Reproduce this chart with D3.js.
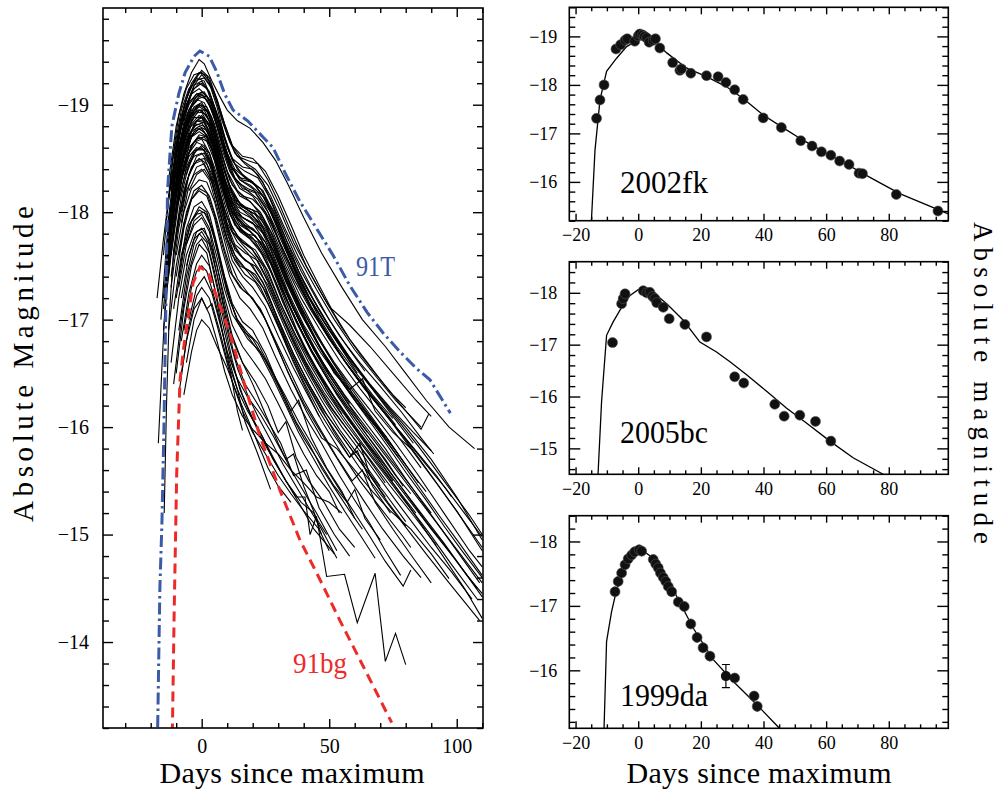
<!DOCTYPE html>
<html>
<head>
<meta charset="utf-8">
<script src="https://cdn.jsdelivr.net/npm/d3@7"></script>
<style>
  body { margin: 0; background: #fff; }
  svg { display: block; }
  text { font-family: "Liberation Serif", "DejaVu Serif", serif; fill: #000; }
</style>
</head>
<body>
<svg id="chart" width="998" height="791"></svg>
<script>
// ---- left panel: sample of light curves, [day since max, absolute mag]
const lightCurves = [
  // bright, broad
  [[-13,-18.3],[-10,-18.8],[-7,-19.1],[-4,-19.3],[-1,-19.42],[1,-19.38],[4,-19.22],[7,-19.08],[10,-18.95],[14,-18.85],[19,-18.78],[24,-18.65],[29,-18.48],[34,-18.25],[40,-17.95],[47,-17.62],[55,-17.3],[63,-17.0],[72,-16.75],[80,-16.5],[88,-16.25],[97,-16.0],[107,-15.8]],
  [[-15,-17.6],[-12,-18.4],[-9,-18.9],[-6,-19.15],[-3,-19.28],[0,-19.3],[3,-19.22],[6,-19.05],[9,-18.82],[12,-18.62],[16,-18.48],[21,-18.4],[26,-18.25],[31,-18.0],[36,-17.72],[42,-17.45],[50,-17.12],[58,-16.95],[66,-16.75],[75,-16.5],[84,-16.25],[90,-16.1]],
  [[-14,-17.9],[-11,-18.55],[-8,-18.95],[-5,-19.15],[-2,-19.23],[1,-19.25],[4,-19.15],[7,-18.95],[10,-18.72],[13,-18.55],[17,-18.45],[22,-18.35],[27,-18.15],[32,-17.88],[38,-17.58],[45,-17.28],[52,-17.0],[60,-16.72],[68,-16.48],[76,-16.25],[86,-16.0]],
  [[-12,-18.2],[-9,-18.7],[-6,-19.0],[-3,-19.15],[0,-19.2],[3,-19.12],[6,-18.92],[9,-18.68],[12,-18.48],[16,-18.35],[20,-18.28],[25,-18.12],[30,-17.85],[35,-17.55],[41,-17.25],[48,-16.98],[56,-16.7],[64,-16.45],[72,-16.22],[80,-16.0],[90,-15.7],[100,-15.35],[110,-14.95]],
  [[-16,-17.0],[-13,-17.95],[-10,-18.55],[-7,-18.9],[-4,-19.1],[-1,-19.15],[2,-19.08],[5,-18.9],[8,-18.65],[11,-18.45],[15,-18.3],[20,-18.22],[25,-18.05],[30,-17.8],[36,-17.48],[42,-17.2],[50,-16.9],[58,-16.62],[66,-16.38],[75,-16.12],[85,-15.82],[95,-15.5],[105,-15.18],[110,-15.0]],
  [[-11,-18.4],[-8,-18.8],[-5,-19.0],[-2,-19.1],[1,-19.08],[4,-18.95],[7,-18.72],[10,-18.5],[13,-18.32],[17,-18.22],[22,-18.12],[27,-17.92],[32,-17.62],[38,-17.32],[45,-17.02],[53,-16.72],[61,-16.45],[70,-16.18],[80,-15.88],[90,-15.55],[100,-15.22],[110,-14.85]],
  [[-14,-17.6],[-11,-18.3],[-8,-18.7],[-5,-18.95],[-2,-19.05],[1,-19.02],[4,-18.88],[7,-18.62],[10,-18.38],[14,-18.2],[18,-18.12],[23,-18.0],[28,-17.78],[33,-17.5],[39,-17.2],[46,-16.92],[54,-16.62],[62,-16.36],[70,-16.12],[78,-15.88],[86,-15.62]],
  [[-10,-18.35],[-7,-18.7],[-4,-18.92],[-1,-19.0],[2,-18.98],[5,-18.82],[8,-18.58],[11,-18.38],[15,-18.22],[20,-18.15],[25,-17.98],[30,-17.7],[36,-17.38],[43,-17.08],[50,-16.82],[58,-16.55],[66,-16.3],[74,-16.06],[82,-15.8],[92,-15.48],[102,-15.15],[110,-14.88]],
  [[-13,-17.8],[-10,-18.4],[-7,-18.75],[-4,-18.95],[-1,-19.0],[2,-18.95],[5,-18.75],[8,-18.48],[11,-18.25],[15,-18.08],[19,-18.0],[24,-17.85],[29,-17.55],[34,-17.25],[40,-16.95],[47,-16.68],[55,-16.42],[63,-16.18],[72,-15.92],[80,-15.65]],
  [[-8,-18.85],[-5,-19.02],[-2,-19.1],[1,-19.12],[4,-19.0],[7,-18.78],[10,-18.55],[13,-18.4],[17,-18.32],[21,-18.25],[26,-18.08],[31,-17.8],[36,-17.52],[42,-17.22],[48,-16.98],[55,-16.72],[61,-16.5]],
  [[-10,-18.45],[-7,-18.75],[-4,-18.92],[-1,-18.98],[2,-18.94],[5,-18.78],[8,-18.52],[11,-18.3],[15,-18.15],[19,-18.1],[24,-17.95],[29,-17.68],[34,-17.38],[40,-17.05]],
  [[-13,-17.9],[-10,-18.45],[-7,-18.78],[-4,-18.98],[-1,-19.06],[2,-19.08],[5,-18.98],[8,-18.78],[11,-18.55],[14,-18.4],[18,-18.3],[23,-18.22],[28,-18.02],[33,-17.75],[39,-17.45],[46,-17.15],[54,-16.85],[62,-16.6],[70,-16.38],[78,-16.15],[86,-15.9],[91,-15.75]],
  [[-12,-18.0],[-9,-18.6],[-6,-18.95],[-3,-19.18],[0,-19.28],[3,-19.2],[6,-18.98],[9,-18.7],[12,-18.5],[16,-18.42],[20,-18.4],[24,-18.28],[28,-18.05],[33,-17.75],[38,-17.45],[44,-17.18],[51,-16.9],[58,-16.65],[66,-16.4],[74,-16.18],[83,-15.95],[90,-15.78]],
  [[-10,-18.6],[-7,-18.92],[-4,-19.12],[-1,-19.2],[2,-19.15],[5,-18.95],[8,-18.68],[11,-18.45],[15,-18.3],[19,-18.25],[24,-18.15],[29,-17.9],[34,-17.6],[40,-17.3],[46,-17.02],[53,-16.75],[60,-16.52],[67,-16.3],[75,-16.08]],
  [[-14,-17.5],[-11,-18.25],[-8,-18.7],[-5,-18.95],[-2,-19.08],[0,-19.1],[3,-19.0],[6,-18.8],[9,-18.55],[12,-18.35],[16,-18.22],[21,-18.18],[26,-18.0],[31,-17.7],[37,-17.38],[43,-17.1],[50,-16.82],[57,-16.58],[64,-16.35],[71,-16.15],[79,-15.92],[88,-15.65],[96,-15.42],[103,-15.2],[110,-14.98]],
  [[-13,-18.1],[-10,-18.62],[-7,-18.98],[-4,-19.2],[-1,-19.3],[2,-19.27],[5,-19.1],[8,-18.85],[11,-18.65],[14,-18.52],[18,-18.48],[22,-18.45],[26,-18.3],[30,-18.1],[35,-17.82],[41,-17.5],[48,-17.2],[55,-16.92],[62,-16.68],[68,-16.5],[75,-16.3],[80,-16.18]],
  [[-12,-18.15],[-9,-18.68],[-6,-19.0],[-3,-19.18],[0,-19.22],[3,-19.12],[6,-18.9],[9,-18.62],[12,-18.42],[15,-18.32],[19,-18.3],[24,-18.2],[29,-17.95],[34,-17.65],[40,-17.35],[47,-17.05],[54,-16.78],[60,-16.58]],
  [[-15,-17.1],[-12,-17.9],[-9,-18.45],[-6,-18.78],[-3,-18.95],[0,-19.0],[3,-18.92],[6,-18.7],[9,-18.45],[12,-18.25],[16,-18.15],[20,-18.12],[25,-18.0],[30,-17.75],[36,-17.45],[42,-17.15],[49,-16.88],[56,-16.62],[63,-16.4],[70,-16.18],[77,-15.98],[85,-15.75],[92,-15.55],[98,-15.35]],
  [[-11,-18.5],[-8,-18.9],[-5,-19.12],[-2,-19.25],[1,-19.22],[4,-19.05],[7,-18.82],[10,-18.6],[13,-18.45],[17,-18.38],[22,-18.32],[27,-18.12],[32,-17.85],[37,-17.58],[43,-17.3],[50,-17.0],[57,-16.75],[64,-16.52]],
  [[-9,-18.6],[-6,-18.9],[-3,-19.05],[0,-19.12],[3,-19.05],[6,-18.85],[9,-18.6],[12,-18.4],[16,-18.3],[20,-18.28],[25,-18.12],[30,-17.88],[35,-17.6],[41,-17.3],[47,-17.05],[54,-16.78],[61,-16.55],[68,-16.32],[75,-16.1],[83,-15.85]],
  [[-7,-18.75],[-4,-18.98],[-1,-19.08],[2,-19.05],[5,-18.88],[8,-18.62],[11,-18.4],[14,-18.28],[18,-18.22],[22,-18.18],[27,-18.0],[32,-17.72],[37,-17.42],[43,-17.12],[49,-16.88],[56,-16.62],[63,-16.4],[70,-16.2],[76,-16.02]],
  [[-12,-18.25],[-9,-18.75],[-6,-19.05],[-3,-19.22],[0,-19.32],[3,-19.25],[6,-19.05],[9,-18.82],[12,-18.62],[16,-18.52],[20,-18.5],[25,-18.38],[30,-18.15],[35,-17.88],[40,-17.6],[46,-17.32],[52,-17.05],[58,-16.82],[65,-16.6],[72,-16.38],[79,-16.18],[86,-15.98],[89,-16.12]],
  // intermediate
  [[-15,-17.2],[-12,-17.95],[-9,-18.5],[-6,-18.8],[-3,-18.93],[0,-18.95],[3,-18.85],[6,-18.62],[9,-18.38],[12,-18.18],[16,-18.05],[21,-17.98],[26,-17.8],[31,-17.52],[37,-17.2],[44,-16.9],[52,-16.6],[60,-16.34],[68,-16.1],[76,-15.85],[85,-15.55],[95,-15.2],[105,-14.85],[110,-14.7]],
  [[-12,-17.95],[-9,-18.45],[-6,-18.75],[-3,-18.88],[0,-18.88],[3,-18.75],[6,-18.5],[9,-18.25],[12,-18.05],[16,-17.95],[20,-17.9],[25,-17.72],[30,-17.45],[35,-17.15],[41,-16.85],[48,-16.58],[56,-16.3],[64,-16.05],[72,-15.8],[80,-15.52],[88,-15.25],[97,-14.95],[109,-14.55]],
  [[-14,-17.5],[-11,-18.15],[-8,-18.55],[-5,-18.78],[-2,-18.85],[1,-18.83],[4,-18.68],[7,-18.42],[10,-18.18],[13,-18.0],[17,-17.9],[22,-17.8],[27,-17.58],[32,-17.3],[38,-17.0],[44,-16.72],[51,-16.45],[58,-16.2],[66,-15.95],[74,-15.7],[82,-15.45],[90,-15.2]],
  [[-10,-18.2],[-7,-18.55],[-4,-18.75],[-1,-18.8],[2,-18.76],[5,-18.58],[8,-18.32],[11,-18.1],[14,-17.95],[18,-17.85],[23,-17.72],[28,-17.48],[33,-17.2],[39,-16.9],[45,-16.62],[52,-16.35],[60,-16.08],[68,-15.82],[76,-15.55],[82,-15.38]],
  [[-13,-17.6],[-10,-18.15],[-7,-18.5],[-4,-18.7],[-1,-18.75],[2,-18.7],[5,-18.52],[8,-18.25],[11,-18.02],[15,-17.85],[20,-17.76],[25,-17.58],[30,-17.3],[35,-17.0],[41,-16.7],[48,-16.42],[55,-16.18],[62,-15.95],[70,-15.7],[78,-15.45],[86,-15.2],[95,-14.92],[104,-14.62],[110,-14.45]],
  [[-11,-17.85],[-8,-18.35],[-5,-18.6],[-2,-18.68],[1,-18.7],[4,-18.6],[7,-18.38],[10,-18.12],[13,-17.92],[17,-17.8],[22,-17.68],[27,-17.45],[32,-17.15],[38,-16.85],[45,-16.55],[52,-16.28],[60,-16.0],[68,-15.75],[75,-15.5]],
  [[-14,-17.2],[-11,-17.85],[-8,-18.3],[-5,-18.55],[-2,-18.65],[1,-18.62],[4,-18.45],[7,-18.18],[10,-17.95],[14,-17.78],[19,-17.68],[24,-17.5],[29,-17.22],[35,-16.9],[41,-16.6],[48,-16.32],[56,-16.05],[64,-15.8],[72,-15.55],[80,-15.3],[89,-15.02],[98,-14.72],[108,-14.4]],
  [[-9,-18.1],[-6,-18.42],[-3,-18.57],[0,-18.6],[3,-18.5],[6,-18.28],[9,-18.02],[12,-17.82],[16,-17.7],[21,-17.58],[26,-17.35],[31,-17.05],[37,-16.75],[43,-16.48],[50,-16.2],[58,-15.95],[66,-15.7],[74,-15.45],[83,-15.18],[92,-14.9]],
  [[-12,-17.6],[-9,-18.1],[-6,-18.4],[-3,-18.52],[0,-18.55],[3,-18.45],[6,-18.22],[9,-17.95],[12,-17.72],[16,-17.58],[20,-17.5],[25,-17.3],[30,-17.0],[36,-16.68],[42,-16.4],[49,-16.12],[56,-15.88],[64,-15.62],[72,-15.38],[80,-15.12]],
  [[-10,-17.8],[-7,-18.2],[-4,-18.42],[-1,-18.5],[2,-18.45],[5,-18.25],[8,-17.98],[11,-17.75],[15,-17.6],[19,-17.52],[24,-17.35],[29,-17.05],[34,-16.75],[40,-16.45],[47,-16.15],[54,-15.9],[62,-15.62],[70,-15.38],[79,-15.1],[88,-14.82],[97,-14.55],[109,-14.2]],
  [[-8,-17.9],[-5,-18.25],[-2,-18.42],[1,-18.45],[4,-18.3],[7,-18.02],[10,-17.75],[14,-17.55],[18,-17.45],[23,-17.3],[28,-17.05],[33,-16.8],[39,-16.5],[45,-16.25],[52,-15.95],[58,-15.72],[61,-15.78],[67,-15.45],[74,-15.2]],
  [[-13,-17.4],[-10,-18.0],[-7,-18.4],[-4,-18.62],[-1,-18.7],[2,-18.66],[5,-18.48],[8,-18.22],[11,-17.98],[15,-17.82],[19,-17.75],[24,-17.6],[29,-17.35],[34,-17.05],[40,-16.75],[47,-16.45],[54,-16.2],[62,-15.92],[70,-15.65],[78,-15.38],[86,-15.1],[94,-14.82],[103,-14.5],[110,-14.22]],
  [[-6,-18.35],[-3,-18.55],[0,-18.62],[3,-18.55],[6,-18.35],[9,-18.08],[12,-17.85],[16,-17.72],[20,-17.65],[25,-17.48],[30,-17.2],[36,-16.88],[42,-16.6],[49,-16.32],[56,-16.08],[63,-15.85],[71,-15.6],[79,-15.35],[84,-15.2]],
  [[-11,-18.1],[-8,-18.5],[-5,-18.72],[-2,-18.82],[1,-18.8],[4,-18.65],[7,-18.4],[10,-18.15],[13,-17.98],[17,-17.88],[22,-17.8],[27,-17.6],[32,-17.32],[38,-17.02],[44,-16.75],[50,-16.5]],
  [[-5,-18.2],[-2,-18.35],[1,-18.4],[4,-18.28],[7,-18.02],[10,-17.75],[13,-17.55],[17,-17.42],[21,-17.35],[26,-17.15],[31,-16.88],[36,-16.6],[41,-16.35],[46,-16.1]],
  [[-9,-18.55],[-6,-18.82],[-3,-18.98],[0,-19.02],[3,-18.9],[6,-18.65],[9,-18.38],[12,-18.18],[16,-18.05],[20,-18.02],[25,-17.88],[30,-17.6],[35,-17.3],[41,-17.0],[47,-16.72],[54,-16.48],[61,-16.25],[68,-16.02],[76,-15.78],[84,-15.52],[88,-15.4]],
  [[-13,-17.7],[-10,-18.25],[-7,-18.6],[-4,-18.82],[-1,-18.9],[2,-18.85],[5,-18.65],[8,-18.4],[11,-18.15],[14,-17.98],[18,-17.92],[23,-17.85],[28,-17.65],[33,-17.35],[39,-17.05],[46,-16.75],[53,-16.48],[61,-16.22],[69,-15.98],[77,-15.72],[85,-15.45],[93,-15.18],[101,-14.92],[110,-14.62]],
  [[-11,-18.05],[-8,-18.45],[-5,-18.68],[-2,-18.78],[1,-18.75],[4,-18.58],[7,-18.3],[10,-18.05],[13,-17.88],[17,-17.8],[21,-17.78],[26,-17.6],[31,-17.3],[37,-16.98],[43,-16.7],[50,-16.42],[57,-16.18],[64,-15.95],[72,-15.7],[79,-15.45]],
  [[-15,-16.9],[-12,-17.7],[-9,-18.2],[-6,-18.5],[-3,-18.65],[0,-18.68],[3,-18.55],[6,-18.3],[9,-18.02],[12,-17.82],[16,-17.72],[21,-17.65],[26,-17.45],[31,-17.15],[37,-16.85],[44,-16.55],[51,-16.28],[58,-16.05],[66,-15.8],[74,-15.55],[82,-15.3],[90,-15.05],[99,-14.78],[108,-14.5]],
  [[-8,-18.3],[-5,-18.52],[-2,-18.6],[1,-18.58],[4,-18.42],[7,-18.15],[10,-17.88],[13,-17.7],[17,-17.62],[22,-17.55],[27,-17.32],[32,-17.02],[38,-16.72],[44,-16.45],[51,-16.18],[58,-15.95],[65,-15.72],[72,-15.48]],
  [[-6,-18.6],[-3,-18.82],[0,-18.9],[3,-18.82],[6,-18.6],[9,-18.32],[12,-18.1],[15,-18.0],[19,-17.95],[23,-17.85],[27,-17.65],[31,-17.4],[36,-17.12],[41,-16.88],[47,-16.62],[53,-16.4],[58,-16.22]],
  [[-14,-17.3],[-11,-18.0],[-8,-18.45],[-5,-18.72],[-2,-18.85],[1,-18.85],[4,-18.7],[7,-18.45],[10,-18.2],[14,-18.05],[18,-18.0],[23,-17.9],[28,-17.68],[33,-17.38],[39,-17.08],[45,-16.8],[52,-16.52],[59,-16.28],[66,-16.05],[73,-15.82],[80,-15.58],[88,-15.32],[95,-15.08],[102,-14.85],[110,-14.6]],
  [[-11,-17.9],[-8,-18.4],[-5,-18.7],[-2,-18.85],[0,-18.88],[3,-18.8],[6,-18.58],[9,-18.3],[12,-18.08],[16,-17.95],[20,-17.9],[25,-17.78],[30,-17.55],[35,-17.28],[40,-17.02],[46,-16.75],[52,-16.5],[58,-16.35],[63,-16.45],[68,-16.15],[75,-15.95],[82,-15.8]],
  [[-13,-17.5],[-10,-18.05],[-7,-18.42],[-4,-18.62],[-1,-18.72],[2,-18.7],[5,-18.52],[8,-18.28],[11,-18.05],[15,-17.88],[19,-17.82],[24,-17.7],[29,-17.45],[34,-17.15],[40,-16.85],[46,-16.58],[53,-16.3],[60,-16.05],[67,-15.82],[74,-15.58],[81,-15.35],[88,-15.12],[96,-14.88],[104,-14.62],[110,-14.42]],
  [[-10,-18.3],[-7,-18.65],[-4,-18.85],[-1,-18.95],[2,-18.9],[5,-18.72],[8,-18.45],[11,-18.22],[14,-18.08],[18,-18.02],[23,-17.95],[28,-17.72],[33,-17.42],[39,-17.12],[45,-16.85],[52,-16.58],[59,-16.32],[66,-16.1],[72,-15.9]],
  [[-12,-17.8],[-9,-18.35],[-6,-18.65],[-3,-18.8],[0,-18.83],[3,-18.72],[6,-18.48],[9,-18.2],[12,-18.0],[16,-17.88],[20,-17.85],[25,-17.72],[30,-17.45],[35,-17.15],[41,-16.85],[48,-16.55],[55,-16.3],[62,-16.05],[70,-15.8],[78,-15.55],[86,-15.3],[94,-15.05],[102,-14.8],[110,-14.55]],
  [[-8,-18.0],[-5,-18.35],[-2,-18.52],[1,-18.55],[4,-18.4],[7,-18.12],[10,-17.85],[13,-17.65],[17,-17.55],[21,-17.5],[26,-17.32],[31,-17.05],[36,-16.78],[42,-16.5],[48,-16.25],[55,-16.0],[62,-15.78],[69,-15.55],[76,-15.32],[83,-15.1],[90,-14.88],[98,-14.65],[106,-14.4]],
  [[-14,-17.4],[-11,-18.1],[-8,-18.55],[-5,-18.82],[-2,-18.95],[1,-18.95],[4,-18.8],[7,-18.55],[10,-18.3],[13,-18.12],[17,-18.05],[22,-18.0],[27,-17.82],[32,-17.52],[38,-17.2],[44,-16.92],[51,-16.62],[58,-16.38],[65,-16.15],[72,-15.92],[79,-15.68],[85,-15.48]],
  [[-11,-17.6],[-8,-18.05],[-5,-18.35],[-2,-18.48],[1,-18.5],[4,-18.35],[7,-18.08],[10,-17.8],[13,-17.6],[17,-17.48],[21,-17.42],[26,-17.22],[31,-16.95],[36,-16.68],[42,-16.4],[48,-16.15],[54,-15.95],[60,-15.75],[66,-15.55],[73,-15.3],[80,-15.08]],
  [[-10,-18.0],[-7,-18.45],[-4,-18.7],[-1,-18.78],[2,-18.72],[5,-18.52],[8,-18.25],[11,-18.0],[14,-17.85],[18,-17.78],[22,-17.72],[27,-17.52],[32,-17.22],[37,-16.92],[43,-16.62],[49,-16.35],[55,-16.12]],
  // early starters
  [[-17.5,-17.2],[-15,-17.75],[-12,-18.3],[-9,-18.62],[-6,-18.82],[-3,-18.92],[0,-18.93],[3,-18.8],[6,-18.55],[9,-18.3],[13,-18.1],[17,-18.0],[22,-17.9],[27,-17.7],[32,-17.42],[38,-17.1],[45,-16.8],[53,-16.5],[61,-16.22],[69,-15.98],[77,-15.72]],
  [[-17,-15.85],[-15.5,-16.6],[-14,-17.3],[-12,-17.85],[-9,-18.3],[-6,-18.6],[-3,-18.75],[0,-18.78],[3,-18.68],[6,-18.45],[9,-18.2],[12,-18.0],[16,-17.88],[21,-17.78],[26,-17.6],[31,-17.32],[37,-17.0],[43,-16.72],[50,-16.45],[57,-16.2],[65,-15.95]],
  [[-14.7,-15.2],[-13.8,-16.2],[-12.8,-17.0],[-11,-17.65],[-8,-18.15],[-5,-18.45],[-2,-18.58],[1,-18.58],[4,-18.42],[7,-18.15],[10,-17.9],[14,-17.72],[18,-17.62],[23,-17.45],[28,-17.18],[34,-16.85],[40,-16.55],[47,-16.25],[54,-15.98],[62,-15.72],[70,-15.45]],
  // fainter
  [[-12,-17.3],[-9,-17.85],[-6,-18.2],[-3,-18.35],[0,-18.4],[3,-18.3],[6,-18.05],[9,-17.78],[12,-17.55],[16,-17.4],[20,-17.3],[25,-17.12],[30,-16.85],[36,-16.55],[42,-16.28],[48,-16.02],[55,-15.75],[62,-15.5],[70,-15.25],[79,-14.98],[82,-14.88]],
  [[-10,-17.6],[-7,-18.0],[-4,-18.22],[-1,-18.3],[2,-18.28],[5,-18.1],[8,-17.82],[11,-17.55],[14,-17.38],[18,-17.25],[23,-17.1],[28,-16.85],[34,-16.55],[40,-16.25],[46,-16.0],[53,-15.72],[59,-15.5],[63,-15.6],[68,-15.3],[75,-15.05],[83,-14.78],[90,-14.55]],
  [[-13,-16.9],[-10,-17.5],[-7,-17.9],[-4,-18.12],[-1,-18.2],[2,-18.15],[5,-17.95],[8,-17.65],[11,-17.4],[15,-17.2],[19,-17.1],[24,-16.92],[29,-16.65],[35,-16.35],[41,-16.08],[47,-15.85],[54,-15.55],[60,-15.32],[66,-15.1],[72,-14.85],[78,-14.62]],
  [[-12,-17.4],[-9,-17.95],[-6,-18.28],[-3,-18.45],[0,-18.48],[3,-18.35],[6,-18.1],[9,-17.82],[12,-17.6],[15,-17.5],[19,-17.45],[24,-17.3],[29,-17.02],[34,-16.72],[40,-16.42],[46,-16.15],[52,-15.92],[58,-15.72],[62,-15.85],[66,-15.55],[72,-15.35]],
  [[-10,-17.4],[-7,-17.85],[-4,-18.12],[-1,-18.22],[2,-18.18],[5,-17.98],[8,-17.7],[11,-17.45],[15,-17.3],[19,-17.22],[24,-17.05],[29,-16.78],[34,-16.5],[40,-16.22],[46,-15.98],[52,-15.75],[58,-15.52],[64,-15.3],[71,-15.05],[79,-14.8],[86,-14.6]],
  [[-9,-17.4],[-6,-17.85],[-3,-18.05],[0,-18.1],[3,-17.98],[6,-17.7],[9,-17.4],[12,-17.15],[16,-16.98],[20,-16.9],[25,-16.68],[30,-16.4],[35,-16.15],[38,-16.25],[43,-15.9],[49,-15.62],[55,-15.4],[60,-15.15]],
  [[-11,-17.1],[-8,-17.6],[-5,-17.88],[-2,-17.98],[1,-18.0],[4,-17.85],[7,-17.55],[10,-17.25],[14,-17.0],[18,-16.85],[23,-16.68],[28,-16.45],[33,-16.2],[38,-15.95],[44,-15.7],[50,-15.45],[56,-15.22],[62,-15.0],[68,-14.78]],
  [[-7,-17.65],[-4,-17.92],[-1,-18.02],[2,-17.98],[5,-17.75],[8,-17.45],[11,-17.18],[14,-17.0],[18,-16.88],[22,-16.78],[27,-16.55],[32,-16.3],[37,-16.05],[42,-15.85],[47,-15.62],[53,-15.4],[58,-15.22],[63,-15.05]],
  [[-9,-17.3],[-6,-17.7],[-3,-17.92],[0,-17.98],[3,-17.85],[6,-17.58],[9,-17.28],[12,-17.05],[16,-16.9],[20,-16.82],[25,-16.62],[30,-16.38],[35,-16.12],[40,-15.9],[46,-15.68],[52,-15.45],[57,-15.3],[60,-15.42],[64,-15.15],[70,-14.95]],
  [[-10,-17.2],[-7,-17.65],[-4,-17.92],[-1,-18.05],[2,-18.0],[5,-17.78],[8,-17.48],[11,-17.2],[14,-16.98],[18,-16.82],[23,-16.7],[28,-16.5],[33,-16.28],[38,-16.05],[43,-15.85],[48,-15.65],[54,-15.42],[60,-15.2],[66,-14.98],[72,-14.75],[79,-14.52],[82,-14.67]],
  [[-8,-17.2],[-5,-17.6],[-2,-17.82],[1,-17.85],[4,-17.65],[7,-17.3],[10,-16.95],[13,-16.65],[17,-16.4],[21,-16.25],[26,-16.05],[31,-15.85],[36,-15.55],[41,-15.6],[46,-15.25],[52,-15.0],[58,-14.8]],
  [[-6,-17.5],[-3,-17.75],[0,-17.82],[3,-17.7],[6,-17.42],[9,-17.1],[12,-16.82],[16,-16.6],[21,-16.42],[26,-16.2],[30,-15.95],[33,-16.05],[37,-15.72],[42,-15.5],[48,-15.3],[54,-15.05],[60,-14.88]],
  [[-5,-17.0],[-2,-17.3],[1,-17.4],[4,-17.25],[7,-16.98],[10,-16.7],[14,-16.45],[18,-16.28],[23,-16.12],[28,-15.92],[33,-15.7],[36,-15.75],[40,-15.45],[45,-15.15],[49,-15.0]],
  [[-6,-17.7],[-3,-17.88],[0,-17.95],[3,-17.82],[6,-17.5],[9,-17.15],[12,-16.85],[16,-16.6],[20,-16.4],[25,-16.12],[30,-15.85],[35,-15.6],[40,-15.4],[45,-15.2],[53,-14.85]],
  [[-9,-17.6],[-6,-18.0],[-3,-18.2],[0,-18.25],[3,-18.15],[6,-17.92],[9,-17.65],[12,-17.42],[16,-17.28],[20,-17.2],[25,-17.0],[30,-16.72],[35,-16.45],[41,-16.15],[47,-15.9],[53,-15.8],[60,-15.6],[67,-15.4],[74,-15.22],[82,-15.05],[90,-14.82],[97,-14.59]],
  [[-9,-16.9],[-6,-17.4],[-3,-17.7],[-1,-17.8],[2,-17.72],[5,-17.45],[8,-17.12],[11,-16.8],[14,-16.55],[18,-16.3],[22,-16.1],[27,-15.88],[32,-15.65],[37,-15.45],[42,-15.25],[47,-15.05],[53,-14.78]],
  [[-11,-16.4],[-8,-17.0],[-5,-17.45],[-2,-17.7],[0,-17.75],[3,-17.62],[6,-17.3],[9,-16.95],[12,-16.62],[15,-16.35],[19,-16.12],[23,-15.92],[28,-15.7],[33,-15.5],[37,-15.35],[40.5,-15.35],[42.5,-15.0],[45,-15.17],[49,-14.61],[56,-14.63],[61,-14.18],[68,-14.64],[72,-13.82],[76,-14.08],[80,-13.79]],
  [[-8,-16.8],[-5,-17.25],[-2,-17.52],[0,-17.6],[3,-17.5],[6,-17.2],[9,-16.88],[12,-16.58],[16,-16.3],[20,-16.08],[24,-15.9],[28,-15.7],[33,-15.5],[38,-15.3],[44,-15.05],[50,-14.88],[52,-14.82]],
  [[-7,-16.9],[-4,-17.3],[-2,-17.45],[0,-17.5],[2,-17.45],[5,-17.2],[8,-16.9],[11,-16.6],[14,-16.35],[17,-16.05],[22,-15.75],[27,-15.42]],
  [[-6,-16.6],[-3,-17.0],[0,-17.2],[2,-17.1],[4,-17.15],[7,-16.9],[10,-16.62],[14,-16.35],[18,-16.15],[23,-15.95],[28,-15.72],[33,-15.5],[39,-15.3],[44,-15.2],[47,-15.0]],
  [[-8,-16.5],[-5,-16.95],[-2,-17.22],[0,-17.3],[3,-17.2],[6,-16.95],[9,-16.68],[12,-16.42],[16,-16.15],[20,-15.95],[25,-15.75],[30,-15.55],[35,-15.38],[40,-15.22],[46,-15.05],[50,-14.85]],
  [[-9,-16.3],[-6,-16.8],[-3,-17.1],[0,-17.2],[3,-17.05],[6,-16.8],[9,-16.52],[12,-16.3],[16,-16.1],[20,-15.98],[25,-15.85],[30,-15.75],[35,-15.6],[40,-15.48],[45,-15.35],[50,-15.3],[55,-15.2]],
  [[-7,-16.3],[-4,-16.7],[-2,-16.9],[0,-17.0],[3,-16.92],[6,-16.75],[10,-16.55],[14,-16.3],[18,-16.08],[22,-15.85],[26,-15.62],[30,-15.45],[35,-15.3]],
  [[-10,-16.5],[-7,-17.1],[-4,-17.5],[-1,-17.7],[2,-17.62],[5,-17.3],[8,-16.9],[11,-16.55],[14,-16.15],[16,-15.97]],
  [[-12,-16.6],[-9,-17.2],[-6,-17.6],[-3,-17.8],[0,-17.85],[3,-17.75],[6,-17.5],[9,-17.2],[12,-16.95],[16,-16.75],[20,-16.62],[25,-16.45],[30,-16.22],[35,-15.98],[40,-15.75],[45,-15.55],[50,-15.4],[54,-15.2]]
];

// templates
const template91T = [[-17.4,-13.0],[-16.4,-14.5],[-15.6,-15.1],[-14.8,-16.0],[-14.0,-17.2],[-13.4,-18.2],[-11.7,-18.8],[-9,-19.1],[-6.5,-19.3],[-3,-19.45],[-0.7,-19.5],[3,-19.45],[6,-19.3],[9,-19.1],[12.3,-18.95],[18,-18.85],[24,-18.7],[28,-18.6],[33,-18.35],[38.5,-18.1],[45,-17.85],[51.5,-17.6],[58,-17.32],[64.8,-17.07],[71,-16.88],[77.8,-16.7],[84,-16.55],[89.5,-16.44],[97.5,-16.13]];
const template91bg = [[-11.6,-13.0],[-10.8,-14.27],[-9.8,-15.57],[-8.5,-16.44],[-7,-16.75],[-5.9,-16.93],[-3.4,-17.34],[-0.7,-17.49],[2.5,-17.44],[5.9,-17.21],[11.1,-16.87],[17,-16.38],[22.9,-15.91],[30.7,-15.41],[38.5,-14.95],[46.4,-14.58],[54.2,-14.2],[64.5,-13.72],[74.5,-13.25]];

// ---- right panels: observations and fits
const fk02Obs = [[-13.3,-17.31],[-12.2,-17.69],[-10.9,-18.0],[-7.1,-18.74],[-5.6,-18.83],[-4.2,-18.92],[-3.5,-18.95],[-1.1,-18.9],[0,-19.01],[0.5,-19.05],[1.4,-19.03],[2,-19.0],[2.7,-18.97],[3.5,-18.88],[4.8,-18.92],[5.5,-18.95],[6.9,-18.76],[11,-18.46],[13.3,-18.3],[13.8,-18.33],[16.8,-18.24],[21.8,-18.19],[25.5,-18.17],[28,-18.05],[30.8,-17.9],[33.5,-17.7],[39.9,-17.32],[45.7,-17.12],[51.9,-16.85],[55.5,-16.74],[58.5,-16.62],[61.5,-16.55],[64.3,-16.43],[67.3,-16.36],[70.5,-16.18],[71.6,-16.17],[82.4,-15.74],[95.7,-15.4]];
const fk02Fit = [[-15.1,-15.0],[-13.8,-16.65],[-12.2,-17.69],[-10.1,-18.28],[-6.9,-18.55],[-3.7,-18.79],[0,-18.93],[2.7,-18.95],[5.9,-18.86],[9.1,-18.66],[15.4,-18.35],[21.8,-18.17],[28.2,-17.96],[33.5,-17.72],[39.9,-17.38],[46.2,-17.12],[52.6,-16.86],[59,-16.63],[65.4,-16.41],[71.8,-16.17],[83.5,-15.76],[99,-15.34]];

const bc05Obs = [[-8.2,-17.04],[-5.3,-17.79],[-4.8,-17.89],[-4.2,-17.98],[1.6,-18.04],[2.7,-18.0],[3.7,-18.01],[4.6,-17.93],[5.3,-17.89],[5.9,-17.81],[8,-17.72],[9.9,-17.5],[14.9,-17.39],[21.8,-17.15],[30.8,-16.38],[33.7,-16.26],[43.6,-15.85],[46.6,-15.62],[51.6,-15.64],[56.6,-15.52],[61.5,-15.14]];
const bc05Fit = [[-13.0,-14.3],[-12.8,-14.53],[-11.7,-15.9],[-10.1,-17.18],[-8,-17.44],[-5.3,-17.72],[-2.6,-17.95],[0,-18.06],[2.7,-18.06],[5.3,-17.98],[9.1,-17.79],[14.4,-17.47],[19.7,-17.05],[25,-16.86],[29.3,-16.67],[34.6,-16.42],[41,-16.1],[47.3,-15.78],[53.7,-15.49],[61.2,-15.14],[68.6,-14.82],[78.2,-14.5]];

const da99Obs = [[-7.4,-17.22],[-6.4,-17.38],[-5.3,-17.51],[-4.2,-17.64],[-3.2,-17.73],[-2.1,-17.79],[-1.1,-17.84],[0.3,-17.87],[1.1,-17.85],[4.8,-17.72],[5.6,-17.65],[6.4,-17.59],[7.1,-17.51],[8,-17.44],[8.8,-17.38],[9.6,-17.3],[10.7,-17.22],[12.8,-17.06],[14.7,-16.99],[16.8,-16.72],[18.8,-16.51],[20.7,-16.35],[22.9,-16.22],[30.8,-15.88],[37,-15.6],[38,-15.44]];
const da99Err = [[28,-15.91,0.18]]; // point with a large error bar
const da99Fit = [[-11.0,-15.0],[-10.9,-15.11],[-10.1,-16.45],[-8.5,-16.91],[-6.9,-17.25],[-3.7,-17.64],[-0.5,-17.82],[1.1,-17.87],[4.8,-17.74],[11.2,-17.25],[17.5,-16.66],[23.9,-16.17],[30.3,-15.83],[37.8,-15.47],[44.7,-15.12],[45.5,-15.05]];

// axis ticks
const leftXTicks = [0, 50, 100];
const leftYTicks = [-19, -18, -17, -16, -15, -14];
const rightXTicks = [-20, 0, 20, 40, 60, 80];
const fkYTicks = [-19, -18, -17, -16];
const bcYTicks = [-18, -17, -16, -15];
const daYTicks = [-18, -17, -16];

const svg = d3.select("#chart");
const minus = d => d < 0 ? "\u2212" + Math.abs(d) : String(d);

function minorTicks(domain, step, majors) {
  const lo = Math.min(...domain), hi = Math.max(...domain);
  return d3.range(Math.ceil(lo / step - 1e-9), Math.floor(hi / step + 1e-9) + 1)
    .map(i => +(i * step).toFixed(3))
    .filter(v => !majors.some(m => Math.abs(m - v) < 1e-6));
}

function drawAxes(g, x, y, o) {
  const [xl, xr] = x.range(), [yt, yb] = y.range();
  const xMin = minorTicks(x.domain(), o.xStep, o.xTicks);
  const yMin = minorTicks(y.domain(), o.yStep, o.yTicks);

  const put = (axis, tx, ty) => {
    const a = g.append("g").attr("transform", `translate(${tx},${ty})`).call(axis);
    a.select(".domain").remove();
    a.selectAll("line").attr("stroke", "#000").attr("stroke-width", 1.4);
    a.attr("font-size", o.fs).attr("font-family", null);
    return a;
  };
  // bottom & top
  put(d3.axisBottom(x).tickValues(o.xTicks).tickSize(-o.xMaj).tickPadding(o.xPad).tickFormat(minus), 0, yb);
  put(d3.axisBottom(x).tickValues(xMin).tickSize(-o.xMinL).tickFormat(""), 0, yb);
  put(d3.axisTop(x).tickValues(o.xTicks).tickSize(-o.xMaj).tickFormat(""), 0, yt);
  put(d3.axisTop(x).tickValues(xMin).tickSize(-o.xMinL).tickFormat(""), 0, yt);
  // left & right
  put(d3.axisLeft(y).tickValues(o.yTicks).tickSize(-o.yMaj).tickPadding(o.yPad).tickFormat(minus), xl, 0);
  put(d3.axisLeft(y).tickValues(yMin).tickSize(-o.yMinL).tickFormat(""), xl, 0);
  put(d3.axisRight(y).tickValues(o.yTicks).tickSize(-o.yMaj).tickFormat(""), xr, 0);
  put(d3.axisRight(y).tickValues(yMin).tickSize(-o.yMinL).tickFormat(""), xr, 0);

  g.append("rect")
    .attr("x", xl).attr("y", yt).attr("width", xr - xl).attr("height", yb - yt)
    .attr("fill", "none").attr("stroke", "#000").attr("stroke-width", 1.6);
}

function clipFor(id, x, y) {
  const [xl, xr] = x.range(), [yt, yb] = y.range();
  svg.append("clipPath").attr("id", id).append("rect")
    .attr("x", xl).attr("y", yt).attr("width", xr - xl).attr("height", yb - yt);
  return `url(#${id})`;
}

// ---------- left panel
const xL = d3.scaleLinear().domain([-38.7, 110.3]).range([103, 483]);
const yL = d3.scaleLinear().domain([-19.9, -13.2]).range([8, 728]);
const lineL = d3.line().x(d => xL(d[0])).y(d => yL(d[1]));

const gL = svg.append("g");
const plotL = gL.append("g").attr("clip-path", clipFor("clipL", xL, yL));

plotL.selectAll("path.sn")
  .data(lightCurves)
  .join("path")
  .attr("class", "sn")
  .attr("d", lineL)
  .attr("fill", "none")
  .attr("stroke", "#000")
  .attr("stroke-width", 1.1);

plotL.append("path")
  .attr("d", lineL(template91T))
  .attr("fill", "none")
  .attr("stroke", "#3b5ba8")
  .attr("stroke-width", 3)
  .attr("stroke-dasharray", "12,4,2.5,4");

plotL.append("path")
  .attr("d", lineL(template91bg))
  .attr("fill", "none")
  .attr("stroke", "#ec2a2a")
  .attr("stroke-width", 3)
  .attr("stroke-dasharray", "10,6");

drawAxes(gL, xL, yL, {
  xTicks: leftXTicks, yTicks: leftYTicks, xStep: 10, yStep: 0.2,
  xMaj: 9, xMinL: 5, yMaj: 10, yMinL: 6, xPad: 11, yPad: 14, fs: 20
});

gL.append("text").attr("x", 356).attr("y", 276).attr("font-size", 30)
  .style("fill", "#3b5ba8")
  .attr("textLength", 39).attr("lengthAdjust", "spacingAndGlyphs").text("91T");
gL.append("text").attr("x", 293).attr("y", 673).attr("font-size", 30)
  .style("fill", "#ec2a2a")
  .attr("textLength", 54).attr("lengthAdjust", "spacingAndGlyphs").text("91bg");

gL.append("text")
  .attr("transform", "translate(33,364) rotate(-90)")
  .attr("text-anchor", "middle").attr("font-size", 29)
  .attr("textLength", 316).attr("lengthAdjust", "spacing")
  .text("Absolute Magnitude");
gL.append("text")
  .attr("x", 292).attr("y", 783)
  .attr("text-anchor", "middle").attr("font-size", 30)
  .attr("textLength", 265).attr("lengthAdjust", "spacing")
  .text("Days since maximum");

// ---------- right panels
const xR = d3.scaleLinear().domain([-22, 99]).range([569.3, 948.3]);

const panels = [
  { name: "2002fk", obs: fk02Obs, fit: fk02Fit, err: [], yDom: [-19.6, -15.2], yRange: [7.3, 220.7], yTicks: fkYTicks, labelY: 193 },
  { name: "2005bc", obs: bc05Obs, fit: bc05Fit, err: [], yDom: [-18.6, -14.5], yRange: [261.7, 474.3], yTicks: bcYTicks, labelY: 443 },
  { name: "1999da", obs: da99Obs, fit: da99Fit, err: da99Err, yDom: [-18.4, -15.1], yRange: [515.7, 728.3], yTicks: daYTicks, labelY: 706 }
];

panels.forEach((p, i) => {
  const y = d3.scaleLinear().domain(p.yDom).range(p.yRange);
  const line = d3.line().x(d => xR(d[0])).y(d => y(d[1]));
  const g = svg.append("g");
  const plot = g.append("g").attr("clip-path", clipFor("clipR" + i, xR, y));

  plot.append("path")
    .attr("d", line(p.fit))
    .attr("fill", "none")
    .attr("stroke", "#000")
    .attr("stroke-width", 1.3);

  // small error bars under the symbols
  plot.selectAll("line.eb")
    .data(p.obs)
    .join("line")
    .attr("class", "eb")
    .attr("x1", d => xR(d[0])).attr("x2", d => xR(d[0]))
    .attr("y1", d => y(d[1] - 0.08)).attr("y2", d => y(d[1] + 0.08))
    .attr("stroke", "#000").attr("stroke-width", 1);

  plot.selectAll("circle")
    .data(p.obs)
    .join("circle")
    .attr("cx", d => xR(d[0]))
    .attr("cy", d => y(d[1]))
    .attr("r", 5)
    .attr("fill", "#111")
    .attr("stroke", "#555")
    .attr("stroke-width", 0.6);

  // the point with a visible error bar
  p.err.forEach(e => {
    const cx = xR(e[0]);
    plot.append("line").attr("x1", cx).attr("x2", cx)
      .attr("y1", y(e[1] - e[2])).attr("y2", y(e[1] + e[2]))
      .attr("stroke", "#000").attr("stroke-width", 1.2);
    [e[1] - e[2], e[1] + e[2]].forEach(v => {
      plot.append("line").attr("x1", cx - 4).attr("x2", cx + 4)
        .attr("y1", y(v)).attr("y2", y(v))
        .attr("stroke", "#000").attr("stroke-width", 1.2);
    });
    plot.append("circle").attr("cx", cx).attr("cy", y(e[1])).attr("r", 5).attr("fill", "#111");
  });

  drawAxes(g, xR, y, {
    xTicks: rightXTicks, yTicks: p.yTicks, xStep: 5, yStep: 0.2,
    xMaj: 7, xMinL: 4, yMaj: 11, yMinL: 6, xPad: 8, yPad: 12, fs: 18
  });

  g.append("text")
    .attr("x", 620).attr("y", p.labelY)
    .attr("font-size", 32)
    .attr("textLength", 88).attr("lengthAdjust", "spacingAndGlyphs")
    .text(p.name);
});

svg.append("text")
  .attr("x", 759).attr("y", 783)
  .attr("text-anchor", "middle").attr("font-size", 30)
  .attr("textLength", 265).attr("lengthAdjust", "spacing")
  .text("Days since maximum");
svg.append("text")
  .attr("transform", "translate(974,383) rotate(90)")
  .attr("text-anchor", "middle").attr("font-size", 27)
  .attr("textLength", 322).attr("lengthAdjust", "spacing")
  .text("Absolute magnitude");
</script>
</body>
</html>
